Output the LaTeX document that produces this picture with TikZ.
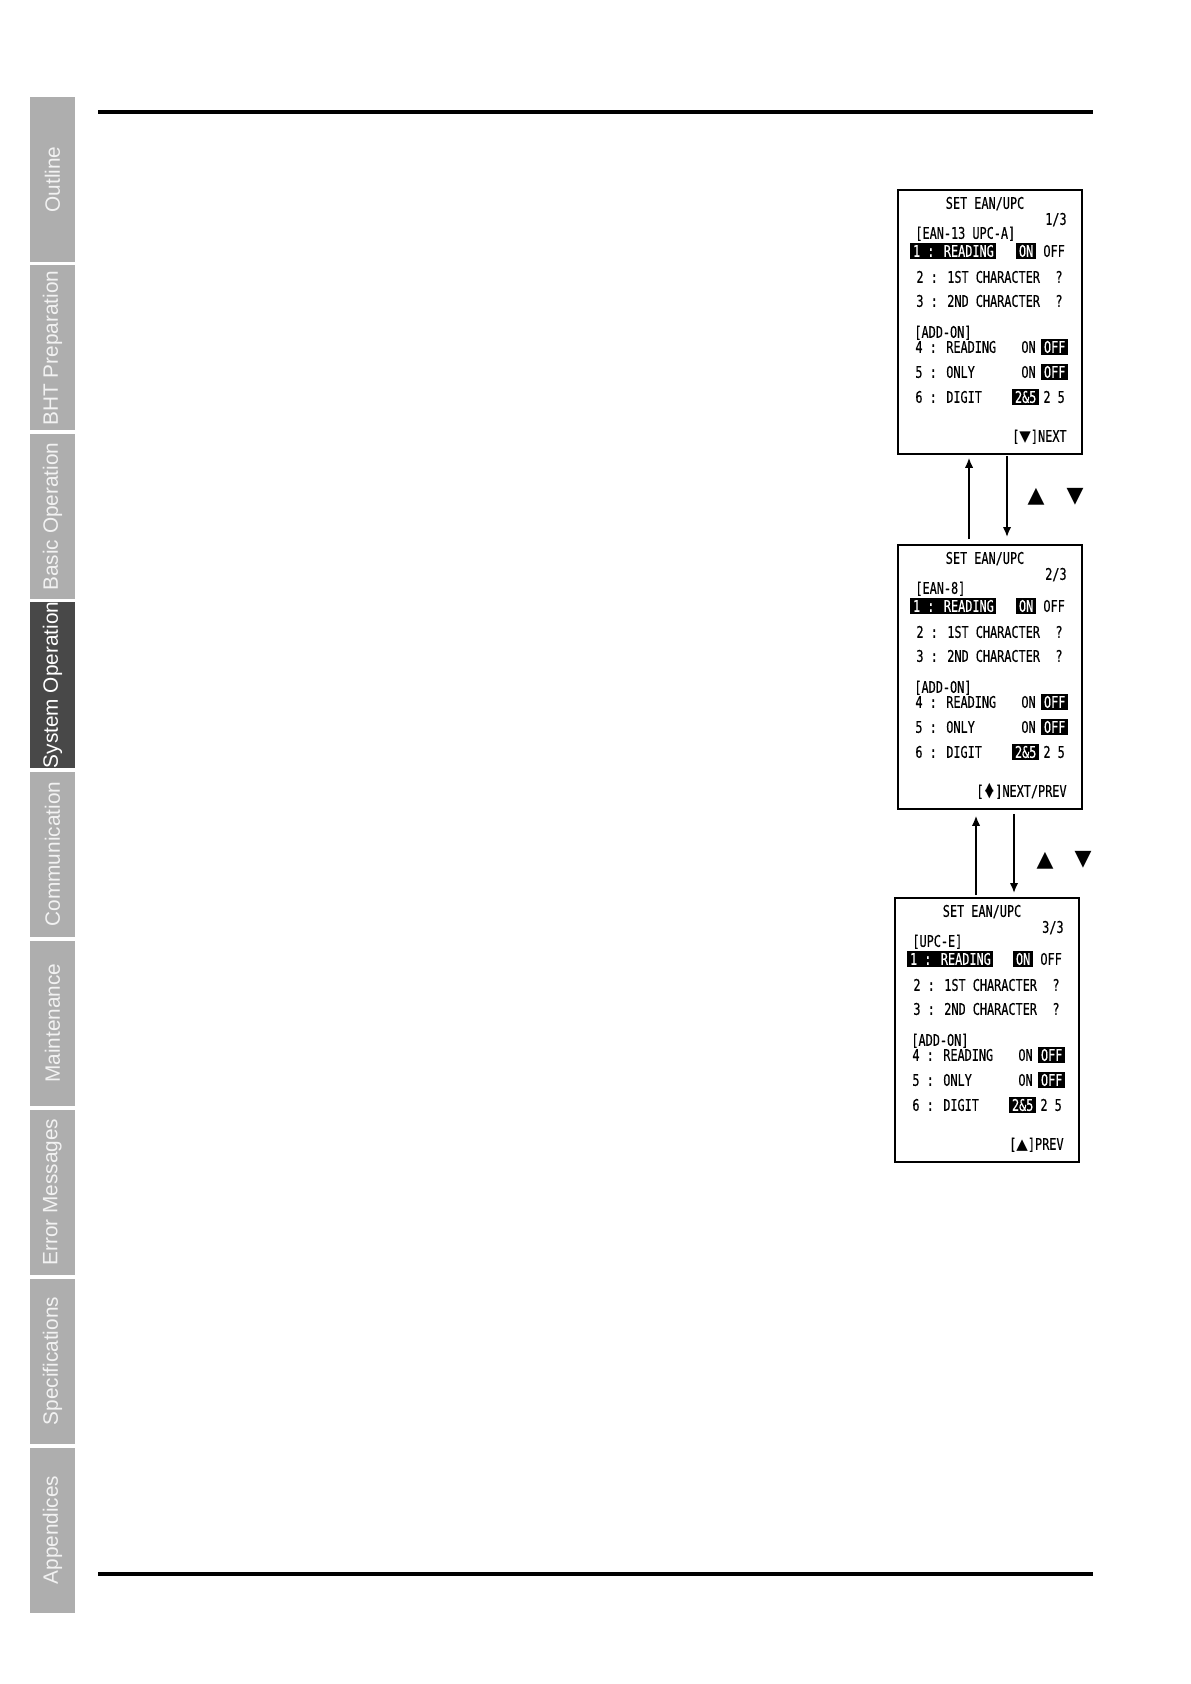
\documentclass[tikz,border=0pt]{standalone}
\usepackage{fontspec}
\setmainfont{Liberation Sans}
\newfontfamily\lcdfont[FakeStretch=0.74,FakeBold=0.4]{DejaVu Sans Mono}
\newfontfamily\symfont{DejaVu Sans}
\usepackage{xcolor}
\usetikzlibrary{arrows.meta,positioning}
\definecolor{tabgray}{RGB}{174,174,174}
\definecolor{tabdark}{RGB}{72,72,72}
\definecolor{tabtext}{RGB}{242,242,242}

% small up/down key glyph for the screen footer
\newcommand{\updownkey}{{\symfont\fontsize{5.6}{6}\selectfont\kern0.8pt
  \raisebox{3.1pt}{▲}\llap{\raisebox{-0.4pt}{▼}}\kern0.8pt}}

% one BHT setup screen, top-left corner at (#2,#3)
\newcommand{\lcdscreen}[6]{%
  \begin{scope}[shift={(#2,#3)}]
    \node[screen, anchor=north west] (#1) at (0,0) {};
    \node[lcd] (#1-title) at (88,14) {SET EAN/UPC};
    \node[lcd, anchor=east] (#1-page) at (170,30) {#4};
    \node[lcd, anchor=west] (#1-sec) at (18,44) {#5};
    \node[inv, anchor=west] (#1-r1) at (13,62) {1 : READING};
    \node[inv, anchor=west] (#1-on1) at (119,62) {ON};
    \node[lcd, anchor=west] (#1-off1) at (146,62) {OFF};
    \node[lcd, anchor=west] (#1-r2) at (19,88) {2 : 1ST CHARACTER};
    \node[lcd, anchor=east] (#1-q2) at (166,88) {?};
    \node[lcd, anchor=west] (#1-r3) at (19,112) {3 : 2ND CHARACTER};
    \node[lcd, anchor=east] (#1-q3) at (166,112) {?};
    \node[lcd, anchor=west] (#1-add) at (17,143) {[ADD-ON]};
    \node[lcd, anchor=west] (#1-r4) at (18,158) {4 : READING};
    \node[lcd, anchor=west] (#1-on4) at (124,158) {ON};
    \node[inv, anchor=west] (#1-off4) at (144,158) {OFF};
    \node[lcd, anchor=west] (#1-r5) at (18,183) {5 : ONLY};
    \node[lcd, anchor=west] (#1-on5) at (124,183) {ON};
    \node[inv, anchor=west] (#1-off5) at (144,183) {OFF};
    \node[lcd, anchor=west] (#1-r6) at (18,208) {6 : DIGIT};
    \node[inv, anchor=west] (#1-both) at (115,208) {2\&5};
    \node[lcd, anchor=west] (#1-each) at (146,208) {2 5};
    \node[lcd, anchor=east] (#1-key) at (170,247) {#6};
  \end{scope}}

\begin{document}
\begin{tikzpicture}[
  x=0.5pt, y=-0.5pt,
  tab/.style={rectangle, rotate=90, fill=tabgray, text=tabtext, inner sep=0pt,
              minimum width=82.5pt, minimum height=22.5pt,
              font=\fontsize{10.4}{12}\selectfont},
  tabsel/.style={tab, fill=tabdark, text=white},
  screen/.style={rectangle, draw=black, line width=0.9pt, inner sep=0pt,
                 minimum width=92pt, minimum height=132pt},
  lcd/.style={inner sep=0pt, text height=5.8pt, text depth=0pt,
              font=\lcdfont\fontsize{8}{9}\selectfont},
  inv/.style={lcd, fill=black, text=white, inner xsep=1.3pt, inner ysep=0.9pt},
  keysym/.style={inner sep=0pt, font=\symfont\fontsize{11}{11}\selectfont},
  arr/.style={-{Latex[length=5pt,width=4.2pt]}, line width=0.8pt},
  rule/.style={line width=2.25pt}
]
\useasboundingbox (0,0) rectangle (1190,1684);

%% ---- Chapter tabs (left) ----
\node[tab]    (outline) at (52.5,179.5) {Outline};
\node[tab]    (bhtprep) at (52.5,348)   {BHT Preparation};
\node[tab]    (basicop) at (52.5,516.5) {Basic Operation};
\node[tabsel] (sysop)   at (52.5,685)   {System Operation};
\node[tab]    (comm)    at (52.5,854)   {Communication};
\node[tab]    (maint)   at (52.5,1023)  {Maintenance};
\node[tab]    (errmsg)  at (52.5,1192)  {Error Messages};
\node[tab]    (specs)   at (52.5,1361)  {Specifications};
\node[tab]    (appx)    at (52.5,1530)  {Appendices};

%% ---- Page rules ----
\draw[rule] (98,112) -- (1093,112);
\draw[rule] (98,1574) -- (1093,1574);

%% ---- Screens ----
\lcdscreen{s1}{897}{189}{1/3}{[EAN-13 UPC-A]}{[{\symfont\fontsize{7.5}{8}\selectfont▼}]NEXT}
\lcdscreen{s2}{897}{544}{2/3}{[EAN-8]}{[\updownkey]NEXT/PREV}
\lcdscreen{s3}{894}{897}{3/3}{[UPC-E]}{[{\symfont\fontsize{7.5}{8}\selectfont▲}]PREV}

%% ---- Key hints ----
\node[keysym] (up1)   at (1036,497) {▲};
\node[keysym] (down1) at (1075,497) {▼};
\node[keysym] (up2)   at (1045,861) {▲};
\node[keysym] (down2) at (1083,860) {▼};

%% ---- Arrows ----
\coordinate (a1) at ([xshift=36pt]s2.north west);
\coordinate (b1) at ([xshift=55pt]s1.south west);
\coordinate (a2) at ([xshift=41pt]s3.north west);
\coordinate (b2) at ([xshift=58.5pt]s2.south west);
\draw[arr, shorten <=2.5pt, shorten >=1.5pt] (a1) -- (a1 |- s1.south);
\draw[arr, shorten <=0.5pt, shorten >=3.5pt] (b1) -- (b1 |- s2.north);
\draw[arr, shorten <=1pt, shorten >=3pt] (a2) -- (a2 |- s2.south);
\draw[arr, shorten <=2pt, shorten >=2pt] (b2) -- (b2 |- s3.north);
\end{tikzpicture}
\end{document}
